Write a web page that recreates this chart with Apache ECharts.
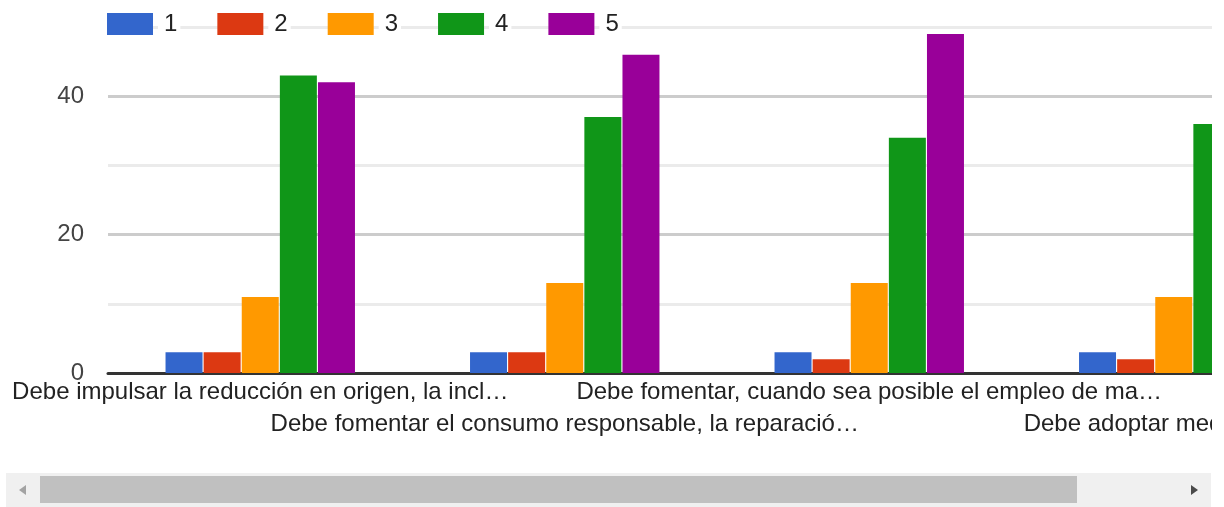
<!DOCTYPE html>
<html>
<head>
<meta charset="utf-8">
<script src="https://cdn.jsdelivr.net/npm/echarts/dist/echarts.min.js"></script>
<style>
  html, body { margin: 0; padding: 0; background: #fff; }
  #view { position: absolute; left: 0; top: 0; width: 1212px; height: 470px; overflow: hidden; }
  #chart { position: absolute; left: 0; top: 0; width: 1340px; height: 470px; }
  #track { position: absolute; left: 6px; top: 473px; width: 1205px; height: 34px; background: #f0f0f0; }
  #thumb { position: absolute; left: 40px; top: 476px; width: 1037px; height: 27px; background: #c0c0c0; }
  .arrow { position: absolute; top: 485px; width: 0; height: 0; border-top: 5px solid transparent; border-bottom: 5px solid transparent; }
  #left { left: 19px; border-right: 7px solid #a3a3a3; }
  #right { left: 1191px; border-left: 7px solid #4a4a4a; }
</style>
</head>
<body>
<div id="view"><div id="chart"></div></div>
<div id="track"></div>
<div id="thumb"></div>
<div class="arrow" id="left"></div>
<div class="arrow" id="right"></div>
<script>
// questions (labels as shown, already cut by the form)
const categories = [
  'Debe impulsar la reducción en origen, la incl…',
  'Debe fomentar el consumo responsable, la reparació…',
  'Debe fomentar, cuando sea posible el empleo de ma…',
  'Debe adoptar medidas de…'
]
const seriesNames = ['1', '2', '3', '4', '5']
const s1 = [3, 3, 3, 3]
const s2 = [3, 3, 2, 2]
const s3 = [11, 13, 13, 11]
const s4 = [43, 37, 34, 36]
const s5 = [42, 46, 49, 49]
const yTicks = [0, 20, 40]

const colors = ['#3366cc', '#dc3912', '#ff9900', '#109618', '#990099']
const font = 'Liberation Sans, Arial, sans-serif'

// wider than the visible box, the rest is scrolled away
const chart = echarts.init(document.getElementById('chart'), null, { width: 1340, height: 470 })

const series = [s1, s2, s3, s4, s5].map((vals, i) => ({
  name: seriesNames[i],
  type: 'bar',
  data: vals,
  barWidth: 37,
  barGap: '3%',
  itemStyle: { color: colors[i] }
}))

const option = {
  animation: false,
  color: colors,
  textStyle: { fontFamily: font },
  legend: {
    left: 102,
    top: 7,
    itemWidth: 46,
    itemHeight: 22,
    itemGap: 37,
    icon: 'rect',
    z: 10,
    textStyle: {
      fontFamily: font,
      fontSize: 24,
      color: '#222',
      backgroundColor: '#fff',
      padding: [0, 3, 0, 6]
    },
    data: seriesNames
  },
  grid: {
    left: 108,
    right: 14,
    top: 27,
    bottom: 97,
    outerBoundsMode: 'none'
  },
  xAxis: {
    type: 'category',
    data: categories,
    axisTick: { show: false },
    axisLine: { lineStyle: { color: '#333', width: 3 } },
    axisLabel: {
      interval: 0,
      margin: 3,
      fontFamily: font,
      fontSize: 24,
      lineHeight: 32,
      color: '#222',
      formatter: (v, i) => (i % 2 === 1 ? '\n' + v : v)
    }
  },
  yAxis: {
    type: 'value',
    min: 0,
    max: 50,
    interval: 10,
    axisLine: { show: false },
    axisTick: { show: false },
    splitLine: {
      lineStyle: {
        // minor lines at 10,30,50 lighter, major at 20,40
        color: ['#333', '#ebebeb', '#cccccc', '#ebebeb', '#cccccc', '#ebebeb'],
        width: 3
      }
    },
    axisLabel: {
      margin: 24,
      fontFamily: font,
      fontSize: 24,
      color: '#444',
      formatter: (v) => (yTicks.indexOf(v) >= 0 ? String(v) : '')
    }
  },
  series: series
}

chart.setOption(option)
</script>
</body>
</html>
